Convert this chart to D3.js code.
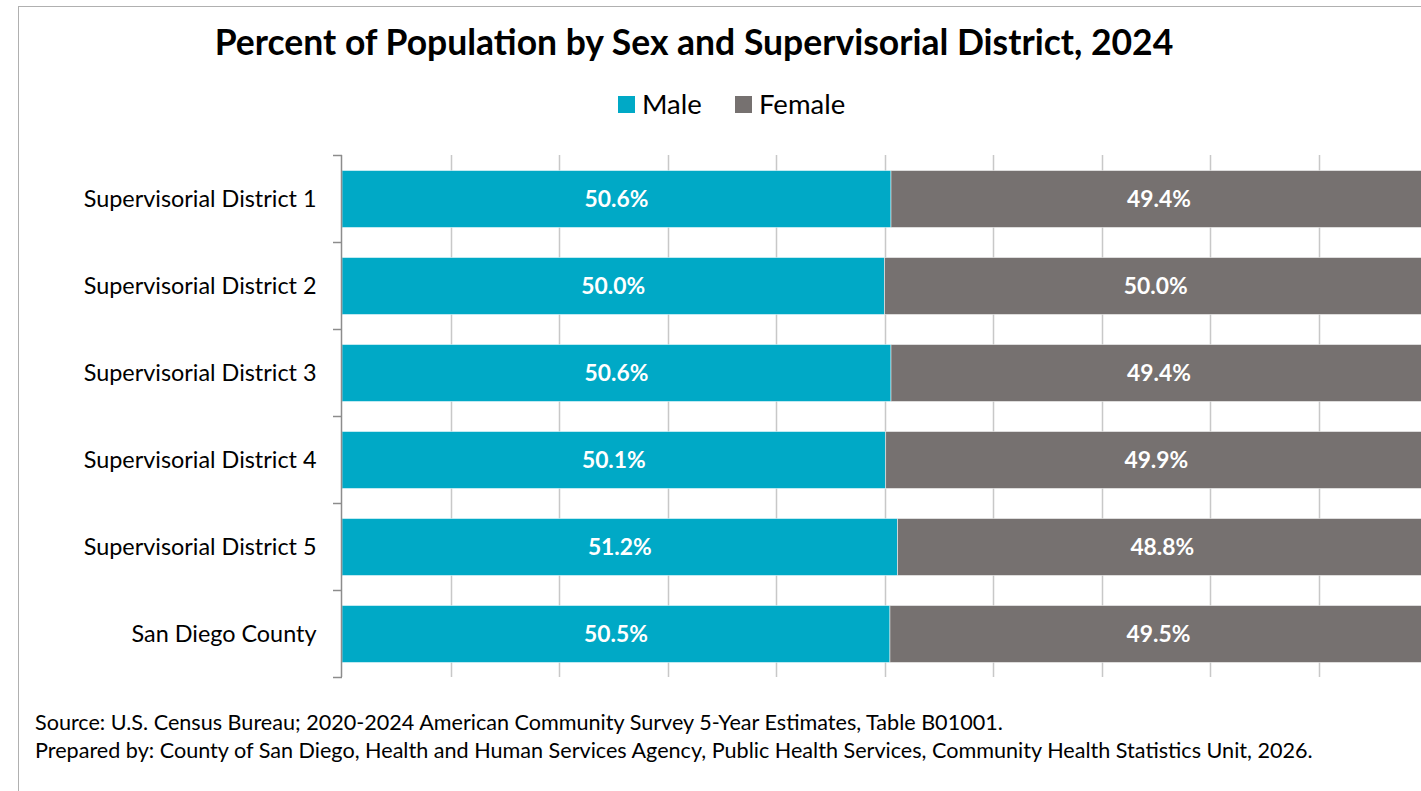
<!DOCTYPE html>
<html><head><meta charset="utf-8">
<script src="https://cdn.jsdelivr.net/npm/d3@7"></script>
<style>body{margin:0;background:#fff;overflow:hidden}svg{display:block;font-family:Lato,"Open Sans",sans-serif}</style>
</head><body>
<svg id="c" width="1421" height="791"></svg>
<script>
const categories = ["Supervisorial District 1","Supervisorial District 2","Supervisorial District 3","Supervisorial District 4","Supervisorial District 5","San Diego County"];
const maleValues = [50.6, 50.0, 50.6, 50.1, 51.2, 50.5];
const femaleValues = [49.4, 50.0, 49.4, 49.9, 48.8, 49.5];
const seriesNames = ["Male","Female"];
const seriesColors = ["#00A9C6","#767170"];
const xTicks = [0,10,20,30,40,50,60,70,80,90,100];
const title = "Percent of Population by Sex and Supervisorial District, 2024";
const notes = ["Source: U.S. Census Bureau; 2020-2024 American Community Survey 5-Year Estimates, Table B01001.",
"Prepared by: County of San Diego, Health and Human Services Agency, Public Health Services, Community Health Statistics Unit, 2026."];

const svg = d3.select("#c");
// frame
svg.append("rect").attr("x",18.5).attr("y",6.5).attr("width",1500).attr("height",900).attr("fill","none").attr("stroke","#b0b0b0");

const x = d3.scaleLinear().domain([0,100]).range([342,1427]);
const y = d3.scaleBand().domain(categories).range([155,677]).paddingInner(0.345).paddingOuter(0.1725);

// gridlines
svg.append("g").selectAll("line").data(xTicks.slice(1)).join("line")
  .attr("x1",d=>Math.round(x(d))+0.5).attr("x2",d=>Math.round(x(d))+0.5)
  .attr("y1",155).attr("y2",677).attr("stroke","#c8c8c8").attr("stroke-width",1.5);

const stacked = categories.map((c,i)=>({cat:c, vals:[maleValues[i],femaleValues[i]]}));
const g = svg.append("g");
stacked.forEach(d=>{
  let acc=0;
  d.vals.forEach((v,j)=>{
    g.append("rect").attr("x",x(acc)).attr("y",y(d.cat)+0.5).attr("width",x(acc+v)-x(acc)).attr("height",y.bandwidth())
      .attr("fill",seriesColors[j]).attr("stroke","#fff").attr("stroke-opacity",0.5).attr("stroke-width",1);
    g.append("text").attr("x",(x(acc)+x(acc+v))/2).attr("y",y(d.cat)+y.bandwidth()/2+1).attr("dy","0.35em")
      .attr("text-anchor","middle").attr("fill","#fff").attr("font-weight","bold").attr("font-size",22.8)
      .text(v.toFixed(1)+"%");
    acc+=v;
  });
});

// y axis
const yAxis = d3.axisLeft(y).tickSize(0).tickPadding(25);
const ag = svg.append("g").attr("transform","translate(341.5,0)").call(yAxis);
ag.select(".domain").attr("stroke","#8c8c8c").attr("stroke-width",1.5).attr("d","M0,155V677");
ag.selectAll("text").attr("font-size",23.4).attr("fill","#000").attr("font-family","Lato,'Open Sans',sans-serif").attr("dy","0.38em");
// category boundary ticks
const bounds = categories.map(c=>y(c)-y.step()*y.paddingInner()/2);
bounds.push(677);
svg.append("g").selectAll("line").data(bounds).join("line")
  .attr("x1",333).attr("x2",342).attr("y1",d=>Math.round(d)+0.5).attr("y2",d=>Math.round(d)+0.5)
  .attr("stroke","#8c8c8c").attr("stroke-width",1.5);

// title
svg.append("text").attr("x",694).attr("y",55).attr("text-anchor","middle").attr("font-weight","bold").attr("font-size",35.5).attr("fill","#000").text(title);

// legend
const lg = svg.append("g");
const legX = [618,735];
seriesNames.forEach((s,i)=>{
  lg.append("rect").attr("x",legX[i]).attr("y",96).attr("width",17).attr("height",17).attr("fill",seriesColors[i]);
  lg.append("text").attr("x",legX[i]+24).attr("y",104).attr("dy","0.36em").attr("font-size",27.5).attr("fill","#000").text(s);
});

// notes
notes.forEach((t,i)=>{
  svg.append("text").attr("x",35).attr("y",730+i*28).attr("font-size",21.6).attr("fill","#000").text(t);
});
</script>
</body></html>
